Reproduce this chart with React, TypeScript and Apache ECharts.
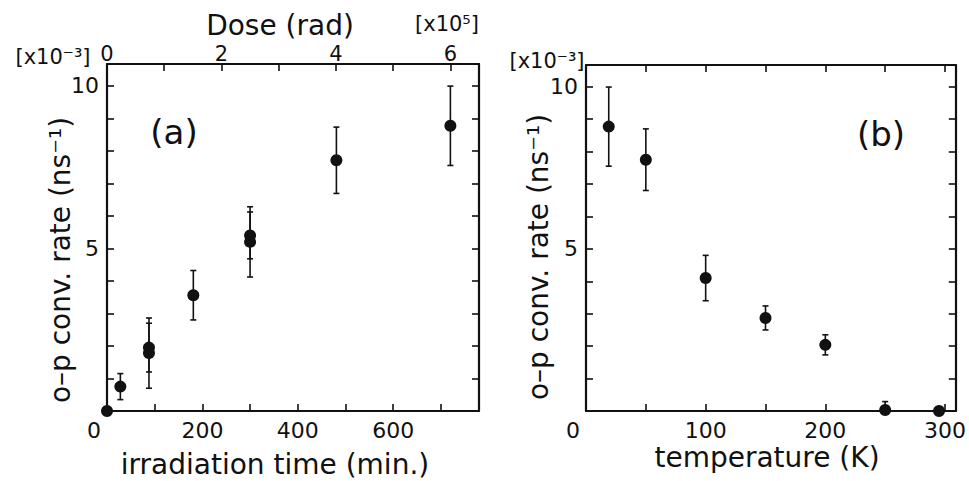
import React, { useEffect, useRef } from "react";
import * as echarts from "echarts";

// Panel (a): irradiation time (min.) vs o-p conversion rate (x10^-3 ns^-1)
const timeA = [0, 28, 88, 88, 181, 300, 300, 481, 720];
const rateA = [0.0, 0.75, 1.95, 1.78, 3.56, 5.4, 5.2, 7.71, 8.77];
const errA = [0.0, 0.4, 0.75, 1.08, 0.76, 0.72, 1.08, 1.02, 1.22];

// Panel (b): temperature (K) vs o-p conversion rate
const tempB = [19, 50, 100, 150, 200, 250, 295];
const rateB = [8.77, 7.75, 4.1, 2.87, 2.04, 0.03, 0.0];
const errB = [1.22, 0.95, 0.7, 0.37, 0.31, 0.26, 0.1];

// Axis tick settings
const yTicksLabeled = [5, 10];
const doseLabels = [0, 2, 4, 6];

const INK = "#111111";
const FONT = "DejaVu Sans";

function errRender(params: any, api: any) {
  const x = api.value(0);
  const y = api.value(1);
  const e = api.value(2);
  if (!e) return null;
  const top = api.coord([x, y + e]);
  const bot = api.coord([x, Math.max(0, y - e)]);
  const w = 3;
  const st = { stroke: INK, lineWidth: 1.6 };
  return {
    type: "group",
    children: [
      { type: "line", shape: { x1: top[0], y1: top[1], x2: bot[0], y2: bot[1] }, style: st },
      { type: "line", shape: { x1: top[0] - w, y1: top[1], x2: top[0] + w, y2: top[1] }, style: st },
      { type: "line", shape: { x1: bot[0] - w, y1: bot[1], x2: bot[0] + w, y2: bot[1] }, style: st },
    ],
  };
}

export default function App() {
  const ref = useRef<HTMLDivElement>(null);
  useEffect(() => {
    if (!ref.current) return;
    const chart = echarts.init(ref.current, null, { renderer: "svg" });
    const axisLine = { show: true, onZero: false, lineStyle: { color: INK, width: 2.2 } };
    const tick = { show: true, inside: true, length: 7, lineStyle: { color: INK, width: 1.6 } };
    const labelBase = { color: INK, fontFamily: FONT, fontSize: 22 };
    const yAxisCommon = (gridIndex: number, pos: string, showLabel: boolean) => ({
      type: "value",
      gridIndex,
      position: pos,
      min: 0,
      max: 10.67,
      interval: 1,
      axisLine,
      axisTick: tick,
      splitLine: { show: false },
      axisLabel: {
        show: showLabel,
        ...labelBase,
        margin: 8,
        showMinLabel: true,
        showMaxLabel: false,
        formatter: (v: number) => (yTicksLabeled.includes(v) ? String(v) : ""),
      },
    });
    const zeroShift = { z: { padding: [0, 26, 0, 0], color: INK, fontFamily: FONT, fontSize: 22 } };
    const series: any[] = [
      {
        type: "custom",
        xAxisIndex: 0,
        yAxisIndex: 0,
        renderItem: errRender,
        encode: { x: 0, y: 1 },
        data: timeA.map((t, i) => [t, rateA[i], errA[i]]),
        z: 2,
      },
      {
        type: "scatter",
        xAxisIndex: 0,
        yAxisIndex: 0,
        symbol: "circle",
        symbolSize: 12,
        clip: false,
        itemStyle: { color: INK, opacity: 1 },
        data: timeA.map((t, i) => [t, rateA[i]]),
        z: 3,
      },
      {
        type: "custom",
        xAxisIndex: 2,
        yAxisIndex: 2,
        renderItem: errRender,
        encode: { x: 0, y: 1 },
        data: tempB.map((t, i) => [t, rateB[i], errB[i]]),
        z: 2,
      },
      {
        type: "scatter",
        xAxisIndex: 2,
        yAxisIndex: 2,
        symbol: "circle",
        symbolSize: 12,
        clip: false,
        itemStyle: { color: INK, opacity: 1 },
        data: tempB.map((t, i) => [t, rateB[i]]),
        z: 3,
      },
    ];
    const txt = (x: number, y: number, text: string, size: number, rotation = 0) => ({
      type: "text",
      x,
      y,
      rotation,
      style: {
        text,
        fill: INK,
        fontFamily: FONT,
        fontSize: size,
        align: "center",
        verticalAlign: "middle",
      },
    });
    chart.setOption({
      animation: false,
      backgroundColor: "#ffffff",
      grid: [
        { left: 107, top: 64, width: 372, height: 347 },
        { left: 586, top: 65, width: 371, height: 346 },
      ],
      xAxis: [
        {
          type: "value",
          gridIndex: 0,
          position: "bottom",
          min: 0,
          max: 780,
          interval: 100,
          axisLine,
          axisTick: tick,
          splitLine: { show: false },
          axisLabel: {
            ...labelBase,
            margin: 8,
            showMaxLabel: false,
            rich: zeroShift,
            formatter: (v: number) => (v === 0 ? "{z|0}" : v % 200 === 0 ? String(v) : ""),
          },
        },
        {
          type: "value",
          gridIndex: 0,
          position: "top",
          min: 0,
          max: 6.5,
          interval: 1,
          axisLine,
          axisTick: tick,
          splitLine: { show: false },
          axisLabel: {
            ...labelBase,
            fontSize: 21,
            lineHeight: 18,
            margin: 1,
            showMaxLabel: false,
            formatter: (v: number) => (doseLabels.includes(v) ? String(v) : ""),
          },
        },
        {
          type: "value",
          gridIndex: 1,
          position: "bottom",
          min: 0,
          max: 309,
          interval: 50,
          axisLine,
          axisTick: tick,
          splitLine: { show: false },
          axisLabel: {
            ...labelBase,
            margin: 8,
            showMaxLabel: false,
            rich: zeroShift,
            formatter: (v: number) => (v === 0 ? "{z|0}" : v % 100 === 0 ? String(v) : ""),
          },
        },
        {
          type: "value",
          gridIndex: 1,
          position: "top",
          min: 0,
          max: 309,
          interval: 50,
          axisLine,
          axisTick: tick,
          splitLine: { show: false },
          axisLabel: { show: false },
        },
      ],
      yAxis: [
        yAxisCommon(0, "left", true),
        yAxisCommon(0, "right", false),
        yAxisCommon(1, "left", true),
        yAxisCommon(1, "right", false),
      ],
      graphic: [
        txt(280, 25, "Dose (rad)", 28),
        txt(447, 24, "[x10⁵]", 21),
        txt(53, 57, "[x10⁻³]", 21),
        txt(547, 61, "[x10⁻³]", 21),
        txt(174, 132, "(a)", 34),
        txt(881, 134, "(b)", 34),
        txt(60, 260, "o–p conv. rate (ns⁻¹)", 28, Math.PI / 2),
        txt(538, 257, "o–p conv. rate (ns⁻¹)", 28, Math.PI / 2),
        txt(275, 464, "irradiation time (min.)", 28),
        txt(767, 457, "temperature (K)", 28),
      ],
      series,
    });
    return () => chart.dispose();
  }, []);
  return (
    <div
      ref={ref}
      style={{ position: "absolute", left: 0, top: 0, width: 969, height: 481 }}
    />
  );
}
